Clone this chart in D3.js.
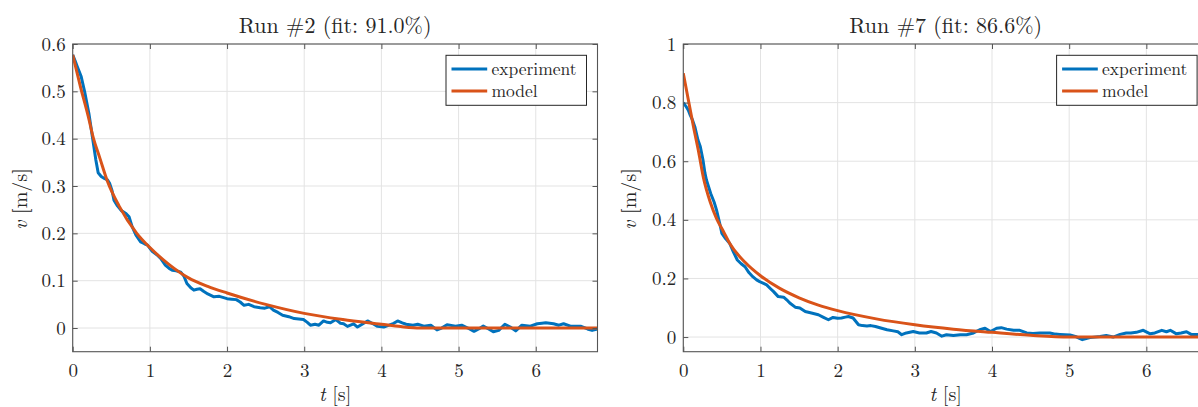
<!DOCTYPE html>
<html>
<head>
<meta charset="utf-8">
<script src="https://cdn.jsdelivr.net/npm/d3@7"></script>
<style>
  body { margin: 0; background: #fff; }
  svg { display: block; }
  text { font-family: "Latin Modern Roman", "CMU Serif", "Liberation Serif", serif; fill: #262626; }
</style>
</head>
<body>
<div id="chart"></div>
<script>
// ---- data ----
var xTicks = [0, 1, 2, 3, 4, 5, 6];
var runTwoYTicks = [0, 0.1, 0.2, 0.3, 0.4, 0.5, 0.6];
var runSevenYTicks = [0, 0.2, 0.4, 0.6, 0.8, 1];
var legendLabels = ["experiment", "model"];

// [t, v] pairs
var runTwoExperiment = [
  [0,0.577],[0.03,0.565],[0.06,0.552],[0.11,0.531],[0.155,0.499],[0.21,0.453],[0.255,0.404],
  [0.3,0.355],[0.33,0.328],[0.37,0.32],[0.41,0.316],[0.45,0.313],[0.48,0.305],[0.51,0.29],
  [0.535,0.27],[0.58,0.258],[0.63,0.248],[0.69,0.242],[0.73,0.235],[0.77,0.214],[0.82,0.196],
  [0.88,0.182],[0.93,0.178],[0.97,0.175],[1.03,0.162],[1.09,0.155],[1.14,0.147],[1.2,0.133],
  [1.25,0.126],[1.29,0.122],[1.34,0.121],[1.4,0.118],[1.44,0.11],[1.48,0.094],[1.53,0.085],
  [1.57,0.08],[1.61,0.082],[1.65,0.083],[1.7,0.077],[1.75,0.072],[1.83,0.066],[1.9,0.067],
  [2.0,0.062],[2.06,0.061],[2.12,0.06],[2.17,0.055],[2.22,0.048],[2.28,0.05],[2.35,0.045],
  [2.43,0.043],[2.49,0.042],[2.55,0.045],[2.6,0.038],[2.66,0.033],[2.72,0.027],[2.8,0.024],
  [2.87,0.02],[2.93,0.019],[2.99,0.018],[3.04,0.012],[3.08,0.006],[3.14,0.008],[3.19,0.006],
  [3.25,0.015],[3.3,0.012],[3.34,0.011],[3.41,0.018],[3.47,0.01],[3.51,0.009],[3.56,0.0035],
  [3.64,0.009],[3.69,0.002],[3.75,0.008],[3.82,0.015],[3.88,0.01],[3.95,0.0035],[4.03,0.002],
  [4.1,0.006],[4.16,0.01],[4.21,0.015],[4.27,0.011],[4.32,0.008],[4.41,0.006],[4.47,0.008],
  [4.55,0.004],[4.64,0.006],[4.72,-0.004],[4.78,0.0],[4.85,0.007],[4.96,0.004],[5.04,0.006],
  [5.12,0.0],[5.2,-0.007],[5.26,-0.002],[5.32,0.004],[5.39,-0.002],[5.45,-0.008],[5.52,-0.005],
  [5.6,0.008],[5.67,0.002],[5.74,-0.006],[5.82,0.006],[5.93,0.004],[6.02,0.009],[6.08,0.01],
  [6.13,0.011],[6.23,0.009],[6.3,0.006],[6.36,0.009],[6.45,0.004],[6.58,0.004],[6.67,-0.002],
  [6.73,-0.005],[6.8,-0.002]
];
var runTwoModel = [
  [0,0.577],[0.1,0.51],[0.2,0.448],[0.27,0.40],[0.35,0.36],[0.45,0.31],[0.6,0.258],[0.83,0.2],
  [1.0,0.17],[1.25,0.134],[1.5,0.106],[1.75,0.088],[2.0,0.074],[2.5,0.05],[3.0,0.031],
  [3.5,0.018],[4.0,0.008],[4.25,0.003],[4.5,0],[5,0],[6,0],[6.8,0]
];
var runSevenExperiment = [
  [0,0.80],[0.04,0.785],[0.065,0.774],[0.09,0.757],[0.12,0.74],[0.15,0.717],[0.19,0.672],
  [0.22,0.65],[0.255,0.604],[0.28,0.56],[0.3,0.536],[0.355,0.49],[0.4,0.46],[0.43,0.434],
  [0.47,0.39],[0.5,0.354],[0.55,0.335],[0.6,0.32],[0.65,0.29],[0.7,0.263],[0.75,0.25],
  [0.8,0.24],[0.85,0.22],[0.9,0.206],[0.95,0.195],[0.99,0.189],[1.04,0.183],[1.08,0.178],
  [1.13,0.165],[1.17,0.155],[1.23,0.138],[1.3,0.136],[1.34,0.127],[1.38,0.116],[1.45,0.102],
  [1.51,0.099],[1.58,0.087],[1.66,0.082],[1.75,0.076],[1.81,0.068],[1.88,0.059],[1.94,0.067],
  [2.0,0.064],[2.05,0.065],[2.1,0.068],[2.14,0.07],[2.2,0.065],[2.27,0.042],[2.32,0.039],
  [2.38,0.038],[2.43,0.039],[2.49,0.036],[2.57,0.03],[2.64,0.025],[2.72,0.021],[2.78,0.018],
  [2.83,0.008],[2.89,0.014],[2.98,0.019],[3.06,0.014],[3.15,0.014],[3.21,0.019],[3.28,0.014],
  [3.35,0.003],[3.41,0.008],[3.5,0.005],[3.59,0.008],[3.67,0.008],[3.76,0.014],[3.84,0.025],
  [3.91,0.03],[3.98,0.019],[4.06,0.03],[4.12,0.032],[4.19,0.027],[4.28,0.023],[4.36,0.023],
  [4.45,0.014],[4.53,0.012],[4.62,0.014],[4.75,0.014],[4.82,0.01],[4.88,0.009],[5.01,0.007],
  [5.08,0.002],[5.12,-0.003],[5.17,-0.009],[5.22,-0.005],[5.27,-0.002],[5.4,0.002],[5.48,0.005],
  [5.57,0.0],[5.66,0.009],[5.74,0.014],[5.8,0.014],[5.87,0.016],[5.96,0.023],[6.05,0.011],
  [6.11,0.014],[6.2,0.023],[6.26,0.018],[6.31,0.023],[6.39,0.011],[6.45,0.014],[6.52,0.018],
  [6.58,0.009],[6.67,0.009],[6.75,0.01],[6.8,0.008]
];
var runSevenModel = [
  [0,0.9],[0.065,0.81],[0.13,0.72],[0.2,0.63],[0.26,0.545],[0.35,0.46],[0.43,0.405],[0.52,0.36],
  [0.6,0.32],[0.8,0.255],[1.0,0.209],[1.25,0.166],[1.5,0.134],[1.75,0.109],[2.0,0.09],
  [2.5,0.062],[3.0,0.042],[3.5,0.027],[4.0,0.016],[4.5,0.006],[5.0,0],[6,0],[6.8,0]
];

var blue = "#0072BD", orange = "#D95319";

var svg = d3.select("#chart").append("svg")
  .attr("width", 1198)
  .attr("height", 407);

function drawPanel(p) {
  var x = d3.scaleLinear().domain([0, 6.8]).range([p.left, p.left + 524.8]);
  var y = d3.scaleLinear().domain(p.yDomain).range([351.7, 44]);
  var g = svg.append("g");

  // grid
  g.selectAll(".vgrid").data(xTicks).enter().append("line")
    .attr("x1", function(d){ return x(d) }).attr("x2", function(d){ return x(d) })
    .attr("y1", y.range()[1]).attr("y2", y.range()[0])
    .attr("stroke", "#e3e3e3").attr("stroke-width", 1);
  g.selectAll(".hgrid").data(p.yTicks).enter().append("line")
    .attr("x1", x.range()[0]).attr("x2", x.range()[1])
    .attr("y1", function(d){ return y(d) }).attr("y2", function(d){ return y(d) })
    .attr("stroke", "#e3e3e3").attr("stroke-width", 1);

  // clip + lines
  var clipId = "clip" + p.id;
  svg.append("clipPath").attr("id", clipId).append("rect")
    .attr("x", x.range()[0]).attr("y", 44)
    .attr("width", 524.8).attr("height", 351.7 - 44);

  var line = d3.line()
    .x(function(d){ return x(d[0]) })
    .y(function(d){ return y(d[1]) });
  var smooth = d3.line()
    .x(function(d){ return x(d[0]) })
    .y(function(d){ return y(d[1]) })
    .curve(d3.curveMonotoneX);

  var lines = g.append("g").attr("clip-path", "url(#" + clipId + ")");
  lines.append("path").datum(p.experiment)
    .attr("d", line).attr("fill", "none")
    .attr("stroke", blue).attr("stroke-width", 3).attr("stroke-linejoin", "round");
  lines.append("path").datum(p.model)
    .attr("d", smooth).attr("fill", "none")
    .attr("stroke", orange).attr("stroke-width", 3).attr("stroke-linejoin", "round");

  // axes (ticks inward, mirrored on top/right)
  var axisColor = "#555";
  var bottom = g.append("g").attr("transform", "translate(0,351.7)")
    .call(d3.axisBottom(x).tickValues(xTicks).tickSizeInner(-5).tickSizeOuter(0).tickPadding(12)
      .tickFormat(d3.format("d")));
  var top = g.append("g").attr("transform", "translate(0,44)")
    .call(d3.axisTop(x).tickValues(xTicks).tickSizeInner(-5).tickSizeOuter(0).tickFormat(""));
  var leftAx = g.append("g").attr("transform", "translate(" + x.range()[0] + ",0)")
    .call(d3.axisLeft(y).tickValues(p.yTicks).tickSizeInner(-5).tickSizeOuter(0).tickPadding(7)
      .tickFormat(function(d){ return d3.format("")(+d.toFixed(1)) }));
  var rightAx = g.append("g").attr("transform", "translate(" + x.range()[1] + ",0)")
    .call(d3.axisRight(y).tickValues(p.yTicks).tickSizeInner(-5).tickSizeOuter(0).tickFormat(""));

  [bottom, top, leftAx, rightAx].forEach(function(a) {
    a.select(".domain").remove();
    a.selectAll(".tick line").attr("stroke", axisColor);
    a.selectAll("text").attr("font-size", "19px").attr("fill", "#262626")
      .style("font-family", null);
    a.attr("font-family", null);
  });

  g.append("rect")
    .attr("x", x.range()[0]).attr("y", 44)
    .attr("width", 524.8).attr("height", 351.7 - 44)
    .attr("fill", "none").attr("stroke", axisColor).attr("stroke-width", 1.1);

  // title
  g.append("text")
    .attr("x", (x.range()[0] + x.range()[1]) / 2).attr("y", 33)
    .attr("text-anchor", "middle").attr("font-size", "22px")
    .text(p.title);

  // x label
  var xl = g.append("text")
    .attr("x", (x.range()[0] + x.range()[1]) / 2).attr("y", 401)
    .attr("text-anchor", "middle").attr("font-size", "20px");
  xl.append("tspan").attr("font-style", "italic").text("t");
  xl.append("tspan").text(" [s]");

  // y label
  var yl = g.append("text")
    .attr("transform", "translate(" + p.yLabelX + ",199) rotate(-90)")
    .attr("text-anchor", "middle").attr("font-size", "20px");
  yl.append("tspan").attr("font-style", "italic").text("v");
  yl.append("tspan").text(" [m/s]");

  // legend
  var lx = x.range()[1] - 151.5, ly = 55.3;
  var lg = g.append("g");
  lg.append("rect").attr("x", lx).attr("y", ly).attr("width", 140.5).attr("height", 50)
    .attr("fill", "#fff").attr("stroke", "#262626").attr("stroke-width", 1);
  [blue, orange].forEach(function(c, i) {
    var yy = ly + 13.7 + i * 22;
    lg.append("line").attr("x1", lx + 5.5).attr("x2", lx + 41.2)
      .attr("y1", yy).attr("y2", yy)
      .attr("stroke", c).attr("stroke-width", 3);
    lg.append("text").attr("x", lx + 45.5).attr("y", yy).attr("dy", "0.33em")
      .attr("font-size", "17.5px").text(legendLabels[i]);
  });
}

drawPanel({
  id: 2, left: 72.7, yDomain: [-0.05, 0.6], yTicks: runTwoYTicks,
  experiment: runTwoExperiment, model: runTwoModel,
  title: "Run #2 (fit: 91.0%)", yLabelX: 27
});
drawPanel({
  id: 7, left: 683.3, yDomain: [-0.05, 1], yTicks: runSevenYTicks,
  experiment: runSevenExperiment, model: runSevenModel,
  title: "Run #7 (fit: 86.6%)", yLabelX: 636
});
</script>
</body>
</html>
